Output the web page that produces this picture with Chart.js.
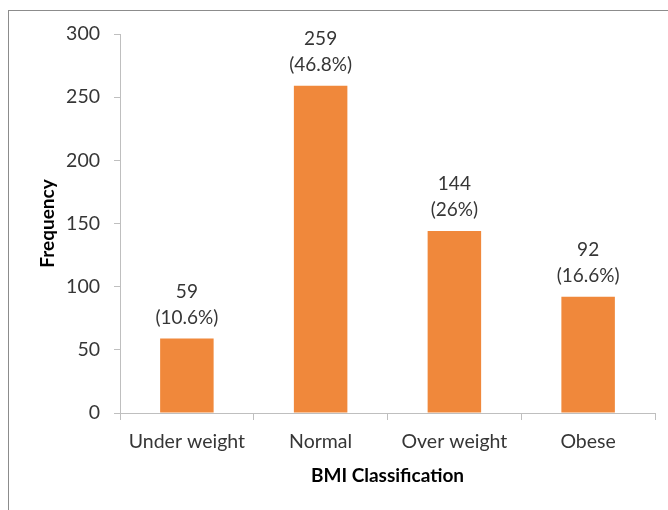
<!DOCTYPE html>
<html>
<head>
<meta charset="utf-8">
<script src="https://cdn.jsdelivr.net/npm/chart.js@4.4.0/dist/chart.umd.min.js"></script>
<style>
  html, body { margin: 0; padding: 0; background: #fff; overflow: hidden; }
  #wrap { position: relative; width: 668px; height: 510px; }
  #frame { position: absolute; left: 8px; top: 10px; width: 700px; height: 540px;
           border-left: 1px solid #8c8c8c; border-top: 1px solid #8c8c8c; }
  #chart { position: absolute; left: 0; top: 0; }
</style>
</head>
<body>
<div id="wrap">
  <div id="frame"></div>
  <canvas id="chart" width="668" height="510"></canvas>
</div>
<script>
// BMI classes and counts
const categories = ['Under weight', 'Normal', 'Over weight', 'Obese'];
const frequency = [59, 259, 144, 92];
const percentLabels = ['(10.6%)', '(46.8%)', '(26%)', '(16.6%)'];
const yTicks = [0, 50, 100, 150, 200, 250, 300];

const textColor = '#363636';
const axisColor = '#bfbfbf';
const font = 'Lato, "Open Sans", sans-serif';

// draws "count" and "(percent)" above each bar
const barLabels = {
    id: 'barLabels',
    afterDatasetsDraw(chart) {
        const ctx = chart.ctx;
        const meta = chart.getDatasetMeta(0);
        ctx.save();
        ctx.fillStyle = textColor;
        ctx.font = '19px ' + font;
        ctx.textAlign = 'center';
        ctx.textBaseline = 'middle';
        meta.data.forEach((bar, i) => {
            ctx.fillText(percentLabels[i], bar.x, bar.y - 21);
            ctx.fillText(String(frequency[i]), bar.x, bar.y - 47);
        });
        ctx.restore();
    }
};

new Chart(document.getElementById('chart').getContext('2d'), {
    type: 'bar',
    data: {
        labels: categories,
        datasets: [{
            label: 'Frequency',
            data: frequency,
            backgroundColor: '#f0883b',
            borderWidth: 0,
            barPercentage: 0.8,
            categoryPercentage: 0.5
        }]
    },
    options: {
        responsive: false,
        animation: false,
        layout: { padding: { left: 0, right: 13, top: 34, bottom: 0 } },
        plugins: {
            legend: { display: false },
            tooltip: { enabled: false }
        },
        scales: {
            x: {
                grid: { drawOnChartArea: false, drawTicks: true, tickLength: 7, color: axisColor, offset: true },
                border: { color: axisColor },
                ticks: { color: textColor, font: { family: font, size: 19.5 }, padding: 10 },
                title: {
                    display: true,
                    text: 'BMI Classification',
                    color: '#000',
                    font: { family: font, size: 19, weight: 'bold' },
                    padding: { top: 0, bottom: 23 }
                },
                afterFit(scale) { scale.height = 97; }
            },
            y: {
                min: 0,
                max: 300,
                afterBuildTicks(scale) { scale.ticks = yTicks.map(v => ({ value: v })); },
                grid: { drawOnChartArea: false, drawTicks: true, tickLength: 6, color: axisColor },
                border: { color: axisColor },
                ticks: { color: textColor, font: { family: font, size: 19.5 }, padding: 14 },
                title: {
                    display: true,
                    text: 'Frequency',
                    color: '#000',
                    font: { family: font, size: 19, weight: 'bold' },
                    padding: { top: 36, bottom: 0 }
                },
                afterFit(scale) { scale.width = 120; }
            }
        }
    },
    plugins: [barLabels]
});
</script>
</body>
</html>
